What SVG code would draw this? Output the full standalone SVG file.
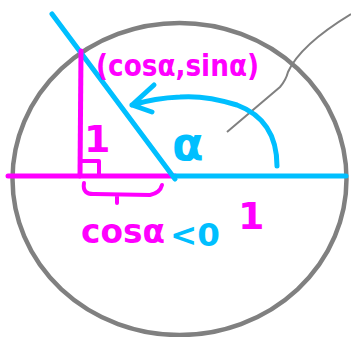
<svg xmlns="http://www.w3.org/2000/svg" width="351" height="337" viewBox="0 0 351 337">
<style>
.m{stroke:#ff00ff;fill:none;stroke-linecap:round;stroke-linejoin:round}
.c{stroke:#00bfff;fill:none;stroke-linecap:round;stroke-linejoin:round}
.tm{fill:#ff00ff;font-family:"DejaVu Sans",sans-serif;font-weight:bold}
.tc{fill:#00bfff;font-family:"DejaVu Sans",sans-serif;font-weight:bold}
</style>
<rect width="351" height="337" fill="#fff"/>
<ellipse cx="179.5" cy="179" rx="167" ry="156" fill="none" stroke="#808080" stroke-width="4.5"/>
<path d="M227,132 L280,87 Q286,80 288,72 Q300,45 351,14" fill="none" stroke="#808080" stroke-width="2"/>
<line x1="8" y1="176" x2="175" y2="176" class="m" stroke-width="5"/>
<line x1="175" y1="176" x2="346" y2="176" class="c" stroke-width="5"/>
<line x1="52" y1="14" x2="175" y2="179" class="c" stroke-width="5"/>
<line x1="81" y1="51" x2="80" y2="176" class="m" stroke-width="5"/>
<path d="M81,161 L99,161 L99,176" class="m" stroke-width="4"/>
<path d="M84,183 Q82,195 95,194 L150,195 Q160,193 162,185 M117,195 L117,203" class="m" stroke-width="4"/>
<path d="M277,166 Q277,120 237,105 Q205,95 180,97 Q155,98 132,105 M132,105 L154,85 M132,105 L152,112" class="c" stroke-width="5"/>
<text x="96" y="76" class="tm" font-size="30" textLength="163" lengthAdjust="spacingAndGlyphs">(cosα,sinα)</text>
<text x="84" y="152" class="tm" font-size="38" font-weight="normal">1</text>
<text x="172" y="160" class="tc" font-size="46" font-weight="normal">α</text>
<text x="81" y="243" class="tm" font-size="34" textLength="84" lengthAdjust="spacingAndGlyphs">cosα</text>
<text x="170" y="246" class="tc" font-size="32" textLength="50" lengthAdjust="spacingAndGlyphs">&lt;0</text>
<text x="238" y="229" class="tm" font-size="38" font-weight="normal">1</text>
</svg>
